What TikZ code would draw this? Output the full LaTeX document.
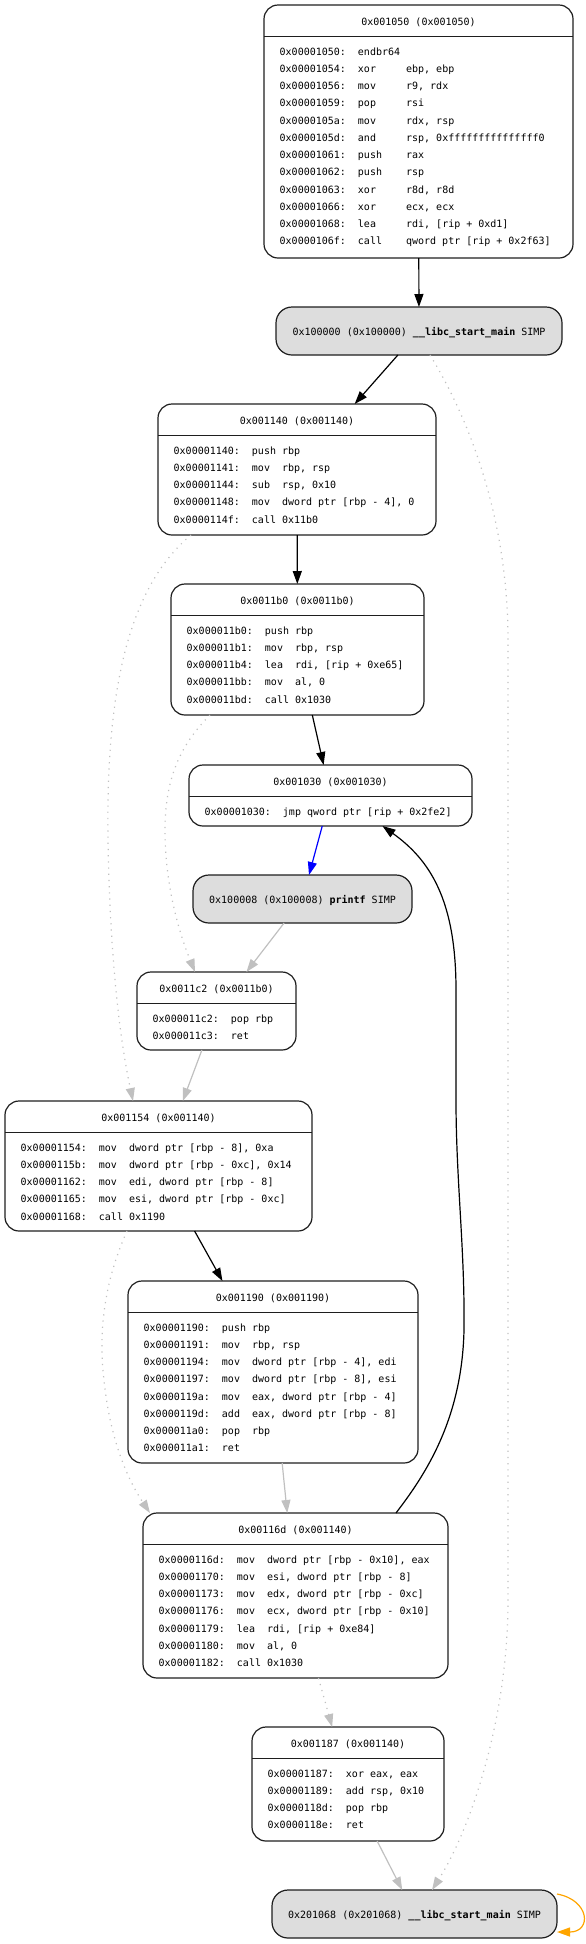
\documentclass[tikz,border=0pt]{standalone}
\usepackage{fontspec}
\setmonofont{DejaVu Sans Mono}
\usetikzlibrary{arrows.meta,fit,calc}
\definecolor{simp}{RGB}{221,221,221}
\definecolor{edgegray}{RGB}{192,192,192}
\definecolor{border}{RGB}{30,30,30}
\definecolor{loopcol}{HTML}{FFA500}
\frenchspacing
\tikzset{
  box/.style={draw=border, line width=1.2pt, rounded corners=14pt, inner sep=0pt, outer sep=0pt},
  simpbox/.style={box, fill=simp, rounded corners=16pt},
  txt/.style={font=\ttfamily\fontsize{10}{12}\selectfont, inner sep=0pt},
  sepline/.style={draw=border, line width=1.2pt},
  tip/.style={-{Triangle[length=13pt,width=9pt]}},
  blk/.style={draw=black, line width=1.2pt, tip},
  gry/.style={draw=edgegray, line width=1.2pt, -{Triangle[length=13pt,width=9pt,fill=edgegray]}},
  dot/.style={gry, dash pattern=on 1.2pt off 5pt},
  blu/.style={draw=blue, line width=1.2pt, -{Triangle[length=13pt,width=9pt,fill=blue]}},
  org/.style={draw=loopcol, line width=1.2pt, -{Triangle[length=13pt,width=9pt,fill=loopcol]}},
}
\newcommand\blk[7]{%
  \node[box, fit={(#2,#3) (#4,#5)}] (#1) {};
  \draw[sepline] ([yshift=-31.5pt]#1.north west) -- ([yshift=-31.5pt]#1.north east);
  \node[txt, anchor=base] (#1-h) at ([yshift=-20pt]#1.north) {#6};
  \foreach \t [count=\i] in {#7} {
    \node[txt, anchor=base west] (#1-\i) at ([xshift=15.5pt, yshift={-50pt-(\i-1)*17.25pt}]#1.north west) {\t};
  }
}
\begin{document}
\begin{tikzpicture}[x=1pt,y=-1pt]
\useasboundingbox (0,0) rectangle (586,1944);

\blk{n1}{264}{5}{573}{258}{0x001050 (0x001050)}{
{0x00001050:~~endbr64},
{0x00001054:~~xor~~~~~ebp, ebp},
{0x00001056:~~mov~~~~~r9, rdx},
{0x00001059:~~pop~~~~~rsi},
{0x0000105a:~~mov~~~~~rdx, rsp},
{0x0000105d:~~and~~~~~rsp, 0xfffffffffffffff0},
{0x00001061:~~push~~~~rax},
{0x00001062:~~push~~~~rsp},
{0x00001063:~~xor~~~~~r8d, r8d},
{0x00001066:~~xor~~~~~ecx, ecx},
{0x00001068:~~lea~~~~~rdi, [rip + 0xd1]},
{0x0000106f:~~call~~~~qword ptr [rip + 0x2f63]}}

\node[simpbox, fit={(276,307) (562,355)}] (libc1) {};
\node[txt] (libc1-t) at ([yshift=-4pt]libc1.center) [anchor=base] {0x100000 (0x100000) \textbf{\_\_libc\_start\_main} SIMP};

\blk{b1140}{158}{404}{436}{535}{0x001140 (0x001140)}{
{0x00001140:~~push rbp},
{0x00001141:~~mov~~rbp, rsp},
{0x00001144:~~sub~~rsp, 0x10},
{0x00001148:~~mov~~dword ptr [rbp - 4], 0},
{0x0000114f:~~call 0x11b0}}

\blk{b11b0}{171}{584}{424}{715}{0x0011b0 (0x0011b0)}{
{0x000011b0:~~push rbp},
{0x000011b1:~~mov~~rbp, rsp},
{0x000011b4:~~lea~~rdi, [rip + 0xe65]},
{0x000011bb:~~mov~~al, 0},
{0x000011bd:~~call 0x1030}}

\blk{b1030}{189}{765}{472}{826}{0x001030 (0x001030)}{
{0x00001030:~~jmp qword ptr [rip + 0x2fe2]}}

\node[simpbox, fit={(193,875) (412,923)}] (printf) {};
\node[txt] (printf-t) at ([yshift=-4pt]printf.center) [anchor=base] {0x100008 (0x100008) \textbf{printf} SIMP};

\blk{b11c2}{137}{972}{296}{1050}{0x0011c2 (0x0011b0)}{
{0x000011c2:~~pop rbp},
{0x000011c3:~~ret}}

\blk{b1154}{5}{1101}{312}{1231}{0x001154 (0x001140)}{
{0x00001154:~~mov~~dword ptr [rbp - 8], 0xa},
{0x0000115b:~~mov~~dword ptr [rbp - 0xc], 0x14},
{0x00001162:~~mov~~edi, dword ptr [rbp - 8]},
{0x00001165:~~mov~~esi, dword ptr [rbp - 0xc]},
{0x00001168:~~call 0x1190}}

\blk{b1190}{128}{1281}{418}{1463}{0x001190 (0x001190)}{
{0x00001190:~~push rbp},
{0x00001191:~~mov~~rbp, rsp},
{0x00001194:~~mov~~dword ptr [rbp - 4], edi},
{0x00001197:~~mov~~dword ptr [rbp - 8], esi},
{0x0000119a:~~mov~~eax, dword ptr [rbp - 4]},
{0x0000119d:~~add~~eax, dword ptr [rbp - 8]},
{0x000011a0:~~pop~~rbp},
{0x000011a1:~~ret}}

\blk{b116d}{143}{1513}{448}{1678}{0x00116d (0x001140)}{
{0x0000116d:~~mov~~dword ptr [rbp - 0x10], eax},
{0x00001170:~~mov~~esi, dword ptr [rbp - 8]},
{0x00001173:~~mov~~edx, dword ptr [rbp - 0xc]},
{0x00001176:~~mov~~ecx, dword ptr [rbp - 0x10]},
{0x00001179:~~lea~~rdi, [rip + 0xe84]},
{0x00001180:~~mov~~al, 0},
{0x00001182:~~call 0x1030}}

\blk{b1187}{252}{1727}{444}{1841}{0x001187 (0x001140)}{
{0x00001187:~~xor eax, eax},
{0x00001189:~~add rsp, 0x10},
{0x0000118d:~~pop rbp},
{0x0000118e:~~ret}}

\node[simpbox, fit={(272,1890) (557,1938)}] (libc2) {};
\node[txt] (libc2-t) at ([yshift=-4pt]libc2.center) [anchor=base] {0x201068 (0x201068) \textbf{\_\_libc\_start\_main} SIMP};

% edges
\draw[blk] (n1) -- (libc1);
\draw[blk] (libc1) -- (b1140);
\draw[dot] ([xshift=11pt]libc1.south) .. controls (470,420) and (508,520) .. (508,640) -- (508,1600) .. controls (508,1720) and (470,1830) .. ([xshift=17.5pt]libc2.north);
\draw[blk] (b1140) -- (b11b0);
\draw[dot] ([xshift=33pt]b1140.south west) .. controls (125,590) and (106,700) .. (108,840) .. controls (110,960) and (120,1040) .. ([xshift=-25.5pt]b1154.north);
\draw[blk] (b11b0) -- (b1030);
\draw[dot] ([xshift=39pt]b11b0.south west) .. controls (180,745) and (164,780) .. (165,835) .. controls (166,890) and (180,935) .. ([xshift=-21.5pt]b11c2.north);
\draw[blu] (b1030) -- (printf);
\draw[gry] (printf) -- (b11c2);
\draw[gry] (b11c2) -- (b1154);
\draw[blk] (b1154) -- (b1190);
\draw[dot] ([xshift=-31.5pt]b1154.south) .. controls (105,1280) and (98,1330) .. (104,1380) .. controls (110,1440) and (128,1480) .. ([xshift=7pt]b116d.north west);
\draw[gry] (b1190) -- (b116d);
\draw[blk] ([xshift=-52pt]b116d.north east) .. controls (425,1475) and (462,1420) .. (464,1330) .. controls (465,1250) and (456,1180) .. (456,1100) -- (456,990) .. controls (456,900) and (430,860) .. ([xshift=52pt]b1030.south);
\draw[dot] (b116d) -- (b1187);
\draw[gry] (b1187) -- (libc2);
\draw[org] ([yshift=20pt]libc2.east) .. controls (590,1900) and (592,1932) .. ([yshift=-18pt]libc2.east);
\end{tikzpicture}
\end{document}
